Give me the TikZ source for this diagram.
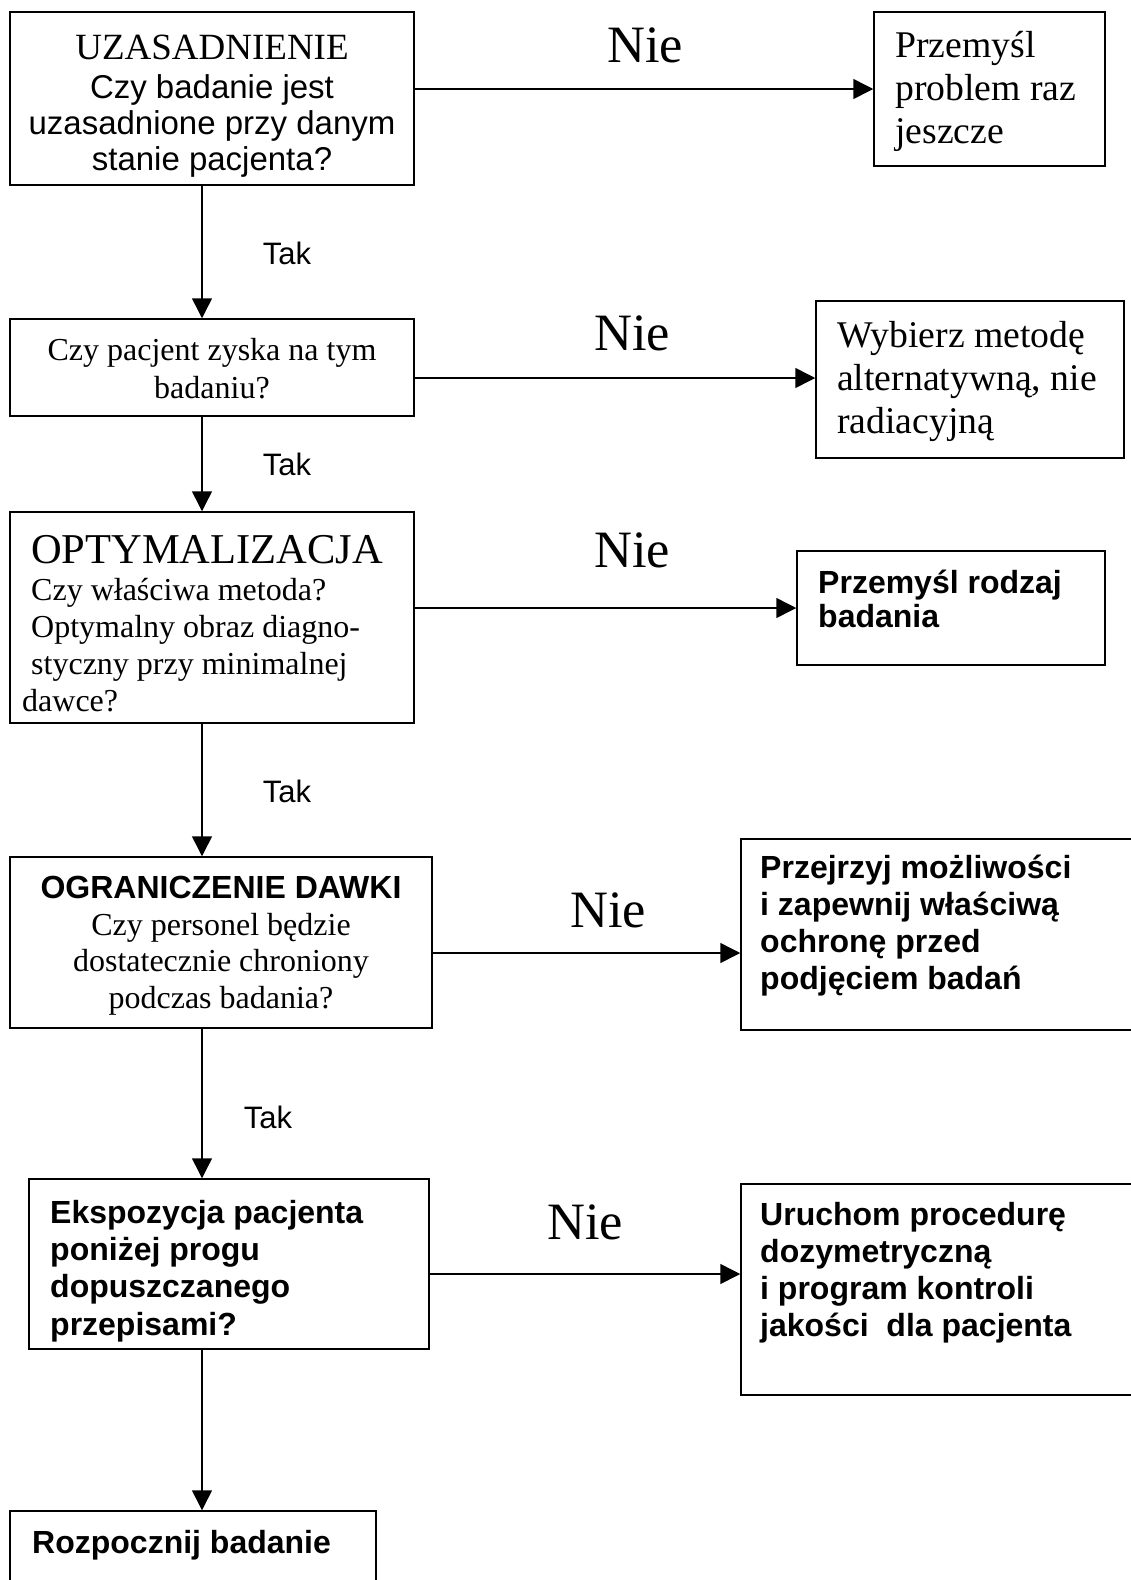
\documentclass[tikz,border=0pt]{standalone}
\usepackage{fontspec}
\setmainfont{Liberation Serif}
\newfontfamily\arialf{Liberation Sans}
\usetikzlibrary{arrows.meta}
\newcommand\fsz[2]{\fontsize{#1pt}{#2pt}\selectfont}
\begin{document}
\begin{tikzpicture}[x=1pt,y=-1pt,
  box/.style={draw, line width=1.5pt, inner sep=0pt},
  arr/.style={line width=1.5pt, -{Triangle[length=20pt,width=20pt]}},
  txt/.style={inner sep=0pt},
  ltxt/.style={inner sep=0pt, anchor=west, align=left},
  nie/.style={inner sep=0pt, font=\fsz{52.5}{60}},
  tak/.style={inner sep=0pt, font=\arialf\fsz{31}{36}}]
\fill[white] (0,0) rectangle (1131,1580);
\useasboundingbox (0,0) rectangle (1131,1580);
% boxes
\node[box, minimum width=404pt, minimum height=173pt] (b1) at (212,98.5) {};
\node[box, minimum width=231pt, minimum height=154pt] (r1) at (989.5,89) {};
\node[box, minimum width=404pt, minimum height=97pt] (b2) at (212,367.5) {};
\node[box, minimum width=308pt, minimum height=157pt] (r2) at (970,379.5) {};
\node[box, minimum width=404pt, minimum height=211pt] (b3) at (212,617.5) {};
\node[box, minimum width=308pt, minimum height=114pt] (r3) at (951,608) {};
\node[box, minimum width=422pt, minimum height=171pt] (b4) at (221,942.5) {};
\node[box, minimum width=399pt, minimum height=191pt] (r4) at (940.5,934.5) {};
\node[box, minimum width=400pt, minimum height=170pt] (b5) at (229,1264) {};
\node[box, minimum width=399pt, minimum height=211pt] (r5) at (940.5,1289.5) {};
\node[box, minimum width=366pt, minimum height=89pt] (b6) at (193,1555.5) {};
% texts
\node[txt, font=\fsz{37}{42}] (t1a) at (212,47) {UZASADNIENIE};
\node[txt, align=center, font=\arialf\fsz{33}{36.3}] (t1b) at (212,126) {Czy badanie jest\\uzasadnione przy danym\\stanie pacjenta?};
\node[ltxt, font=\fsz{37.7}{43.4}] (tr1) at (895,91.5) {Przemyśl\\problem raz\\jeszcze};
\node[txt, align=center, font=\fsz{32}{38}] (t2) at (212,369) {Czy pacjent zyska na tym\\badaniu?};
\node[ltxt, font=\fsz{37.7}{43}] (tr2) at (837,381) {Wybierz metodę\\alternatywną, nie\\radiacyjną};
\node[txt, anchor=west, font=\fsz{42.5}{48}] (t3a) at (31,550) {OPTYMALIZACJA};
\node[ltxt, font=\fsz{32}{37}] (t3b) at (31,645) {Czy właściwa metoda?\\Optymalny obraz diagno-\\styczny przy minimalnej\\\hspace*{-9pt}dawce?};
\node[ltxt, font=\arialf\bfseries\fsz{32}{34.5}] (tr3) at (818,599) {Przemyśl rodzaj\\badania};
\node[txt, font=\arialf\bfseries\fsz{32}{37}] (t4a) at (221,887) {OGRANICZENIE DAWKI};
\node[txt, align=center, font=\fsz{32}{36.7}] (t4b) at (221,964) {Czy personel będzie\\dostatecznie chroniony\\podczas badania?};
\node[ltxt, font=\arialf\bfseries\fsz{32}{37}] (tr4) at (760,925.5) {Przejrzyj możliwości\\i zapewnij właściwą\\ochronę przed\\podjęciem badań};
\node[ltxt, font=\arialf\bfseries\fsz{32}{37.3}] (t5) at (50,1271) {Ekspozycja pacjenta\\poniżej progu\\dopuszczanego\\przepisami?};
\node[ltxt, font=\arialf\bfseries\fsz{32}{37}] (tr5) at (760,1272.5) {Uruchom procedurę\\dozymetryczną\\i program kontroli\\jakości\ \ dla pacjenta};
\node[txt, anchor=west, font=\arialf\bfseries\fsz{32}{37}] (t6) at (32,1545) {Rozpocznij badanie};
% labels
\node[nie] (n1) at (645,45) {Nie};
\node[nie] (n2) at (632,333) {Nie};
\node[nie] (n3) at (632,550) {Nie};
\node[nie] (n4) at (608,910) {Nie};
\node[nie] (n5) at (585,1222) {Nie};
\node[tak] (k1) at (287,253) {Tak};
\node[tak] (k2) at (287,464) {Tak};
\node[tak] (k3) at (287,791) {Tak};
\node[tak] (k4) at (268,1117) {Tak};
% connectors
\coordinate (v) at (202,0);
\coordinate (a1) at (0,89);
\coordinate (a2) at (0,378);
\coordinate (a3) at (0,608);
\coordinate (a4) at (0,953);
\coordinate (a5) at (0,1274);
\draw[arr] (b1.east |- a1) -- (r1.west |- a1);
\draw[arr] (b2.east |- a2) -- (r2.west |- a2);
\draw[arr] (b3.east |- a3) -- (r3.west |- a3);
\draw[arr] (b4.east |- a4) -- (r4.west |- a4);
\draw[arr] (b5.east |- a5) -- (r5.west |- a5);
\draw[arr] (b1.south -| v) -- (b2.north -| v);
\draw[arr] (b2.south -| v) -- (b3.north -| v);
\draw[arr] (b3.south -| v) -- (b4.north -| v);
\draw[arr] (b4.south -| v) -- (b5.north -| v);
\draw[arr] (b5.south -| v) -- (b6.north -| v);
\end{tikzpicture}
\end{document}
